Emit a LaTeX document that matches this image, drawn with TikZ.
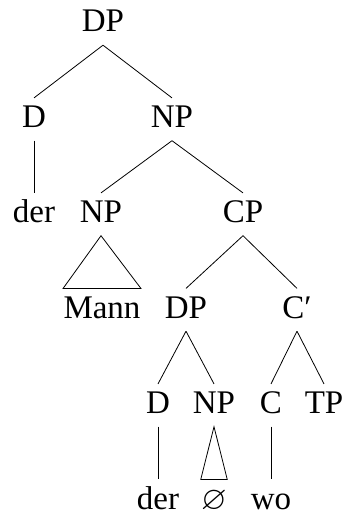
\documentclass[tikz,border=0pt]{standalone}
\usepackage{amssymb}
\usepackage{fontspec}
\setmainfont{Liberation Serif}
\begin{document}
\begin{tikzpicture}[x=0.5pt,y=-0.5pt,
    every node/.style={anchor=base,inner xsep=0pt,inner ysep=3.8pt,
      text height=10.8pt,text depth=2.6pt,font=\fontsize{16.5}{19}\selectfont}]
        \useasboundingbox (0,0) rectangle (344,518);

        % 節点
        \node (dp) at (103,32) {DP};
        \node (d) at (34,127.5) {D};
        \node (np) at (172,127.5) {NP};
        \node (der) at (34,222.5) {der};
        \node (npa) at (101,222.5) {NP};
        \node (cp) at (243,222.5) {CP};
        \node (mann) at (102,318) {Mann};
        \node (dpb) at (186,318) {DP};
        \node (cbar) at (297,318) {C′};
        \node (db) at (158,413.5) {D};
        \node (npb) at (214,413.5) {NP};
        \node (c) at (271,413.5) {C};
        \node (tp) at (324,413.5) {TP};
        \node (derb) at (158,509) {der};
        \node (empty) at (214,509) {$\varnothing$};
        \node (wo) at (271,509) {wo};

        % 枝
        \draw (dp.south) -- (d.north);
        \draw (dp.south) -- (np.north);
        \draw (d.south) -- (der.north);
        \draw (np.south) -- (npa.north);
        \draw (np.south) -- (cp.north);
        \draw (cp.south) -- (dpb.north);
        \draw (cp.south) -- (cbar.north);
        \draw (dpb.south) -- (db.north);
        \draw (dpb.south) -- (npb.north);
        \draw (cbar.south) -- (c.north);
        \draw (cbar.south) -- (tp.north);
        \draw (db.south) -- (derb.north);
        \draw (c.south) -- (wo.north);

        % 三角形
        \draw (npa.south) -- (mann.north west) -- (mann.north east) -- cycle;
        \draw (npb.south) -- (empty.north west) -- (empty.north east) -- cycle;
      \end{tikzpicture}
\end{document}
